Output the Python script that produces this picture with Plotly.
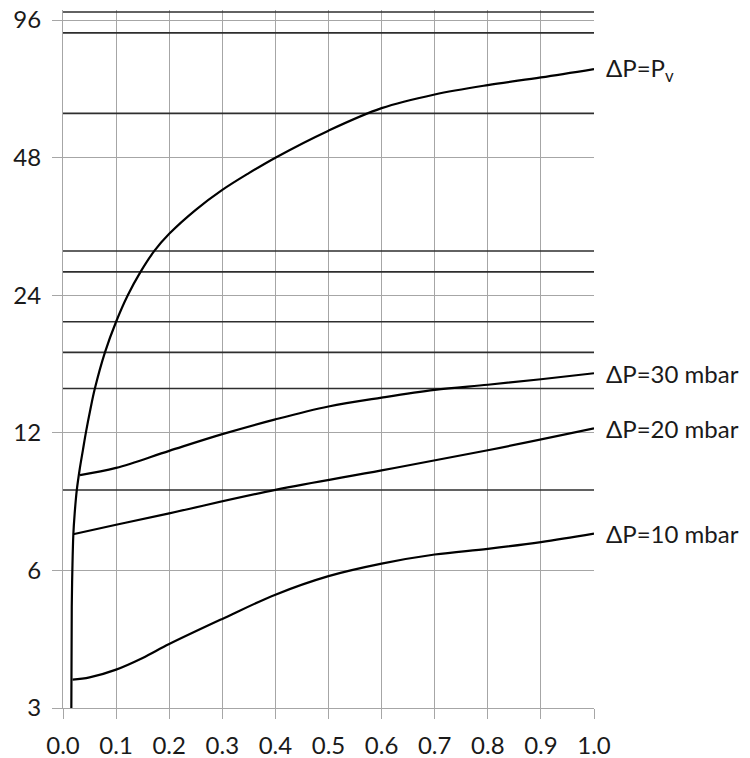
import math
import plotly.graph_objects as go

# ---- data ----
pv_x = [0.0157, 0.0165, 0.0176, 0.0195, 0.022, 0.026, 0.0315, 0.0375, 0.043, 0.0515, 0.060,
        0.079, 0.100, 0.122, 0.146, 0.172, 0.200, 0.250, 0.300, 0.350, 0.400, 0.500,
        0.600, 0.700, 0.800, 0.900, 1.000]
pv_y = [3.0, 5.0, 6.0, 7.2, 8.0, 9.0, 10.0, 11.0, 12.0, 13.5, 15.0,
        18.0, 21.0, 24.0, 27.0, 30.0, 32.7, 36.9, 40.8, 44.4, 48.0, 55.0,
        61.6, 66.0, 69.2, 71.9, 75.0]

m30_x = [0.032, 0.1, 0.2, 0.3, 0.4, 0.5, 0.6, 0.7, 0.8, 0.9, 1.0]
m30_y = [9.7, 10.06, 10.96, 11.92, 12.84, 13.7, 14.33, 14.9, 15.29, 15.72, 16.2]

m20_x = [0.019, 0.1, 0.2, 0.4, 0.6, 0.8, 1.0]
m20_y = [7.2, 7.55, 8.0, 9.0, 9.93, 10.99, 12.27]

m10_x = [0.018, 0.05, 0.1, 0.15, 0.2, 0.3, 0.4, 0.5, 0.6, 0.7, 0.8, 0.9, 1.0]
m10_y = [3.46, 3.5, 3.64, 3.86, 4.14, 4.70, 5.31, 5.83, 6.21, 6.50, 6.69, 6.92, 7.22]

ref_levels = [100, 90, 60, 30, 27, 21, 18, 15, 9]

y_ticks = [3, 6, 12, 24, 48, 96]
x_ticks = [0.0, 0.1, 0.2, 0.3, 0.4, 0.5, 0.6, 0.7, 0.8, 0.9, 1.0]
x_tick_labels = ["0.0", "0.1", "0.2", "0.3", "0.4", "0.5", "0.6", "0.7", "0.8", "0.9", "1.0"]

series_names = ["ΔP=P<sub>v</sub>", "ΔP=30 mbar", "ΔP=20 mbar", "ΔP=10 mbar"]

FONT = "Lato"
GRID = "#a6a6a6"
TXT = "#1a1a1a"

fig = go.Figure()

for lvl in ref_levels:
    fig.add_trace(go.Scatter(x=[0, 1], y=[lvl, lvl], mode="lines",
                             line=dict(color="#2e2e2e", width=1.6),
                             hoverinfo="skip", showlegend=False))

curves = [(pv_x, pv_y), (m30_x, m30_y), (m20_x, m20_y), (m10_x, m10_y)]
for (xs, ys), name in zip(curves, series_names):
    fig.add_trace(go.Scatter(x=xs, y=ys, mode="lines", name=name,
                             line=dict(color="black", width=2.2, shape="spline", smoothing=1.0),
                             showlegend=False))
    fig.add_annotation(x=1, xref="paper", y=math.log10(ys[-1]), yref="y",
                       text=name, showarrow=False, xanchor="left", yanchor="middle",
                       xshift=10, font=dict(family=FONT, size=24, color=TXT))

fig.update_xaxes(range=[0, 1], tickvals=x_ticks, ticktext=x_tick_labels,
                 showgrid=True, gridcolor=GRID, gridwidth=1.2,
                 ticks="outside", ticklen=10, tickcolor=GRID, tickwidth=1.2,
                 showline=True, linecolor=GRID, linewidth=1.2,
                 zeroline=False, ticklabelstandoff=6, automargin=False,
                 tickfont=dict(family=FONT, size=24, color=TXT))
fig.update_yaxes(type="log", range=[math.log10(3), math.log10(101)],
                 tickvals=y_ticks, ticktext=[str(v) for v in y_ticks],
                 showgrid=True, gridcolor=GRID, gridwidth=1.2,
                 ticks="outside", ticklen=10, tickcolor=GRID, tickwidth=1.2,
                 showline=True, linecolor=GRID, linewidth=1.2,
                 zeroline=False, ticklabelstandoff=6, automargin=False,
                 tickfont=dict(family=FONT, size=24, color=TXT))

fig.update_layout(width=750, height=758,
                  margin=dict(l=63, r=156, t=10, b=50),
                  plot_bgcolor="white", paper_bgcolor="white",
                  showlegend=False)

# remove the default page-body margin so the figure sits at the window's corner
fig.write_html("out.html", config={"displayModeBar": False},
               post_script="document.body.style.margin='0';document.body.style.overflow='hidden';")
